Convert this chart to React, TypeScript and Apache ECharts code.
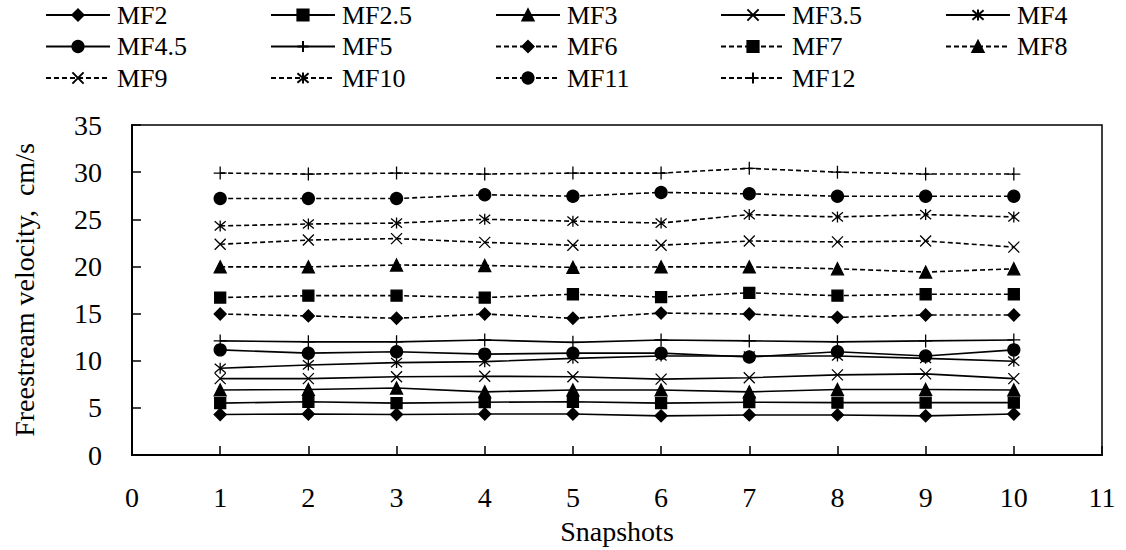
import React, { useEffect, useRef } from "react";
import * as echarts from "echarts";

// Snapshot index (x) and freestream velocity (cm/s) for every MF case
const snapshots = [1, 2, 3, 4, 5, 6, 7, 8, 9, 10];

const seriesNames = [
  "MF2", "MF2.5", "MF3", "MF3.5", "MF4",
  "MF4.5", "MF5", "MF6", "MF7", "MF8",
  "MF9", "MF10", "MF11", "MF12",
];

const mf2 = [4.3, 4.35, 4.3, 4.35, 4.35, 4.15, 4.25, 4.25, 4.15, 4.35];
const mf2_5 = [5.5, 5.65, 5.5, 5.6, 5.65, 5.5, 5.6, 5.55, 5.55, 5.55];
const mf3 = [6.9, 6.95, 7.1, 6.7, 6.9, 6.9, 6.7, 6.95, 6.95, 6.9];
const mf3_5 = [8.1, 8.1, 8.3, 8.35, 8.3, 8.05, 8.2, 8.5, 8.6, 8.1];
const mf4 = [9.2, 9.55, 9.8, 9.9, 10.25, 10.5, 10.5, 10.5, 10.25, 9.95];
const mf4_5 = [11.15, 10.8, 10.95, 10.7, 10.8, 10.8, 10.4, 10.95, 10.5, 11.15];
const mf5 = [12.1, 12.0, 12.0, 12.2, 11.95, 12.2, 12.1, 12.0, 12.1, 12.2];
const mf6 = [14.95, 14.75, 14.5, 14.95, 14.5, 15.05, 14.95, 14.6, 14.85, 14.85];
const mf7 = [16.7, 16.9, 16.9, 16.7, 17.05, 16.75, 17.2, 16.9, 17.05, 17.05];
const mf8 = [19.95, 19.95, 20.15, 20.1, 19.9, 19.95, 19.95, 19.75, 19.4, 19.75];
const mf9 = [22.35, 22.8, 22.95, 22.55, 22.25, 22.25, 22.7, 22.6, 22.7, 22.05];
const mf10 = [24.3, 24.5, 24.6, 25.0, 24.8, 24.6, 25.5, 25.25, 25.5, 25.25];
const mf11 = [27.2, 27.2, 27.2, 27.6, 27.45, 27.85, 27.7, 27.45, 27.45, 27.45];
const mf12 = [29.9, 29.8, 29.9, 29.8, 29.9, 29.9, 30.4, 30.0, 29.8, 29.8];

const seriesValues = [
  mf2, mf2_5, mf3, mf3_5, mf4, mf4_5, mf5,
  mf6, mf7, mf8, mf9, mf10, mf11, mf12,
];

const xTicks = { min: 0, max: 11, interval: 1 };
const yTicks = { min: 0, max: 35, interval: 5 };

// Marker shapes: stroked glyphs are drawn as open paths
const CROSS = "path://M0,0L10,10M10,0L0,10";
const STAR = "path://M0,0L10,10M10,0L0,10M5,-1L5,11";
const PLUS = "path://M5,0L5,10M0,5L10,5";

const markerCycle = ["diamond", "rect", "triangle", CROSS, STAR, "circle", PLUS];
const markerSize: Record<string, number> = {
  diamond: 12,
  rect: 11,
  triangle: 12,
  circle: 12,
};
markerSize[CROSS] = 11;
markerSize[STAR] = 11;
markerSize[PLUS] = 13;

const FONT = "'Liberation Serif', 'DejaVu Serif', serif";

export default function App() {
  const ref = useRef<HTMLDivElement>(null);

  useEffect(() => {
    if (!ref.current) return;
    const chart = echarts.init(ref.current, undefined, { renderer: "svg" });

    const series = seriesNames.map((name, i) => {
      const dashed = i >= 7;
      const sym = markerCycle[i % 7];
      return {
        name,
        type: "line",
        data: snapshots.map((x, k) => [x, seriesValues[i][k]]),
        symbol: sym,
        symbolSize: markerSize[sym],
        showSymbol: true,
        itemStyle: { color: "#000", borderColor: "#000", borderWidth: 1.3 },
        lineStyle: {
          color: "#000",
          width: 1.6,
          type: dashed ? [5, 3] : "solid",
        },
        emphasis: { disabled: true },
      };
    });

    // One legend block per entry so the entries sit on a fixed 5-column grid
    const legends = seriesNames.map((name, i) => {
      const col = i % 5;
      const row = Math.floor(i / 5);
      return {
        data: [name],
        left: 45 + col * 225,
        top: 1 + row * 31.5,
        itemWidth: 64,
        itemHeight: 14,
        selectedMode: false,
        padding: 0,
        textStyle: {
          fontFamily: FONT,
          fontSize: 26,
          color: "#000",
          lineHeight: 28,
          padding: [0, 0, 0, 2],
        },
      };
    });

    chart.setOption({
      animation: false,
      backgroundColor: "#fff",
      legend: legends,
      grid: {
        left: 132,
        top: 125,
        width: 970,
        height: 330,
        show: true,
        borderColor: "#000",
        borderWidth: 1.5,
        backgroundColor: "transparent",
      },
      xAxis: {
        type: "value",
        min: xTicks.min,
        max: xTicks.max,
        interval: xTicks.interval,
        name: "Snapshots",
        nameLocation: "middle",
        nameGap: 62,
        nameTextStyle: { fontFamily: FONT, fontSize: 28, color: "#000" },
        axisLine: { show: true, lineStyle: { color: "#000", width: 2 } },
        axisTick: { show: true, inside: true, length: 9, lineStyle: { color: "#000", width: 1.5 } },
        axisLabel: { fontFamily: FONT, fontSize: 28, color: "#000", margin: 28 },
        splitLine: { show: false },
      },
      yAxis: {
        type: "value",
        min: yTicks.min,
        max: yTicks.max,
        interval: yTicks.interval,
        name: "Freestream velocity,  cm/s",
        nameLocation: "middle",
        nameGap: 94,
        nameTextStyle: { fontFamily: FONT, fontSize: 28, color: "#000" },
        axisLine: { show: true, lineStyle: { color: "#000", width: 2 } },
        axisTick: { show: true, inside: true, length: 9, lineStyle: { color: "#000", width: 1.5 } },
        axisLabel: { fontFamily: FONT, fontSize: 28, color: "#000", margin: 30 },
        splitLine: { show: false },
      },
      series,
    });

    return () => chart.dispose();
  }, []);

  return (
    <div
      ref={ref}
      style={{ position: "fixed", left: 0, top: 0, width: 1126, height: 550 }}
    />
  );
}
